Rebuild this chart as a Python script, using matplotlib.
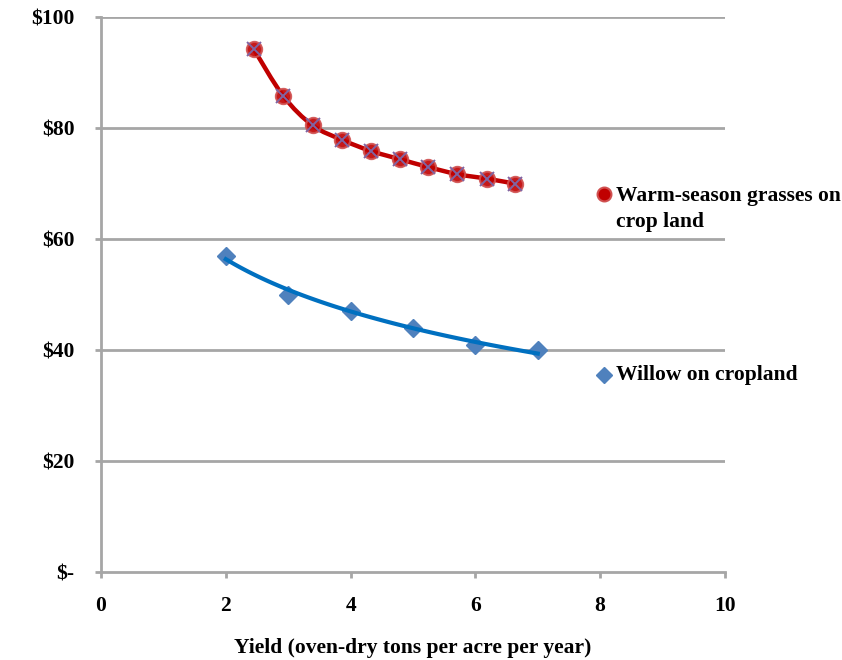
import numpy as np
import matplotlib
matplotlib.use("Agg")
import matplotlib.pyplot as plt
from matplotlib.lines import Line2D
from matplotlib.path import Path
from matplotlib.patches import PathPatch

# data
grass_x = [2.45, 2.92, 3.39, 3.86, 4.32, 4.79, 5.24, 5.71, 6.18, 6.63]
grass_y = [94.2, 85.8, 80.5, 77.9, 75.9, 74.4, 73.0, 71.7, 70.9, 70.0]
willow_x = [2, 3, 4, 5, 6, 7]
willow_y = [57, 50, 47, 44, 41, 40]
y_ticks = [0, 20, 40, 60, 80, 100]
y_labels = ["$-", "$20", "$40", "$60", "$80", "$100"]
x_ticks = [0, 2, 4, 6, 8, 10]

FS = 15.5
plt.rcParams["font.family"] = ["Liberation Serif", "DejaVu Serif"]
plt.rcParams["font.weight"] = "bold"


def smooth_path(xs, ys, t=1 / 6):
    """Excel-like smoothed line: Catmull-Rom segments as cubic Bezier curves."""
    p = np.column_stack([xs, ys]).astype(float)
    verts, codes = [p[0]], [Path.MOVETO]
    for i in range(len(p) - 1):
        p0 = p[i - 1] if i > 0 else p[i]
        p3 = p[i + 2] if i + 2 < len(p) else p[i + 1]
        c1 = p[i] + (p[i + 1] - p0) * t
        c2 = p[i + 1] - (p3 - p[i]) * t
        verts += [c1, c2, p[i + 1]]
        codes += [Path.CURVE4] * 3
    return Path(verts, codes)


fig = plt.figure(figsize=(8.42, 6.6), dpi=100)
ax = fig.add_axes([0.12, 0.1333, 0.741, 0.8407])

grid_c = "#a6a6a6"
for yv in y_ticks[1:]:
    ax.axhline(yv, color=grid_c, lw=2, zorder=1)

# willow: markers + logarithmic trendline
ax.plot(willow_x, willow_y, "D", ms=9, color="#4f81bd", mec="#4f81bd", zorder=3)
b, a = np.polyfit(np.log(willow_x), willow_y, 1)
xs = np.linspace(min(willow_x), max(willow_x), 100)
ax.plot(xs, a + b * np.log(xs), color="#0070c0", lw=3, zorder=4)

# warm-season grasses: smoothed line with markers
ax.add_patch(PathPatch(smooth_path(grass_x, grass_y), fill=False, edgecolor="#c00000",
                       lw=3.2, zorder=4, capstyle="round"))
ax.plot(grass_x, grass_y, "o", ms=11, color="#c00000", mec="#d05050", mew=1.5, alpha=0.9, zorder=5)
ax.plot(grass_x, grass_y, "x", ms=10, mew=1.4, color="#8064a2", zorder=6)

ax.set_xlim(0, 10)
ax.set_ylim(0, 100)
ax.set_xticks(x_ticks)
ax.set_yticks(y_ticks)
ax.set_yticklabels(y_labels)
ax.tick_params(axis="both", labelsize=FS, color=grid_c, width=2, length=4, direction="out")
ax.tick_params(axis="x", pad=13)
ax.tick_params(axis="y", pad=15)
for lab in ax.get_xticklabels() + ax.get_yticklabels():
    lab.set_fontweight("bold")
for s in ["top", "right"]:
    ax.spines[s].set_visible(False)
for s in ["left", "bottom"]:
    ax.spines[s].set_color(grid_c)
    ax.spines[s].set_linewidth(2)

ax.set_xlabel("Yield (oven-dry tons per acre per year)", fontsize=FS, fontweight="bold", labelpad=16)

# legend entries placed beside the plot
fig.add_artist(Line2D([604 / 842], [1 - 194 / 660], marker="o", ms=10, color="#c00000",
                      mec="#d05050", mew=1.5, transform=fig.transFigure))
fig.text(616 / 842, 1 - 186 / 660, "Warm-season grasses on\ncrop land", fontsize=FS,
         fontweight="bold", va="top", ha="left", linespacing=1.4)
fig.add_artist(Line2D([604 / 842], [1 - 375 / 660], marker="D", ms=8, color="#4f81bd",
                      transform=fig.transFigure))
fig.text(616 / 842, 1 - 375 / 660, "Willow on cropland", fontsize=FS, fontweight="bold",
         va="center", ha="left")

fig.savefig("out.png", dpi=100)
